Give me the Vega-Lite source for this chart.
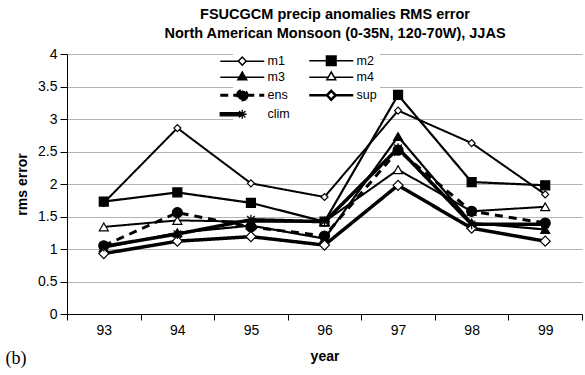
{
  "$schema": "https://vega.github.io/schema/vega-lite/v6.json",
  "padding": {"left": 5, "right": 0, "top": 6, "bottom": 0},
  "background": "white",
  "title": {
    "text": ["FSUCGCM precip anomalies RMS error", "North American Monsoon (0-35N, 120-70W), JJAS"],
    "font": "Liberation Sans", "fontSize": 14.5, "fontWeight": "bold", "lineHeight": 19,
    "anchor": "middle", "offset": 6, "dx": 41, "color": "black"
  },
  "config": {"view": {"stroke": null}, "font": "Liberation Sans", "concat": {"spacing": 0}},
  "datasets": {
    "rms": [
      {"series": "m1", "year": "93", "rms": 1.71}, {"series": "m1", "year": "94", "rms": 2.86}, {"series": "m1", "year": "95", "rms": 2.01}, {"series": "m1", "year": "96", "rms": 1.80}, {"series": "m1", "year": "97", "rms": 3.13}, {"series": "m1", "year": "98", "rms": 2.63}, {"series": "m1", "year": "99", "rms": 1.84},
      {"series": "m2", "year": "93", "rms": 1.73}, {"series": "m2", "year": "94", "rms": 1.87}, {"series": "m2", "year": "95", "rms": 1.71}, {"series": "m2", "year": "96", "rms": 1.42}, {"series": "m2", "year": "97", "rms": 3.37}, {"series": "m2", "year": "98", "rms": 2.03}, {"series": "m2", "year": "99", "rms": 1.98},
      {"series": "m3", "year": "93", "rms": 1.02}, {"series": "m3", "year": "94", "rms": 1.25}, {"series": "m3", "year": "95", "rms": 1.36}, {"series": "m3", "year": "96", "rms": 1.16}, {"series": "m3", "year": "97", "rms": 2.73}, {"series": "m3", "year": "98", "rms": 1.40}, {"series": "m3", "year": "99", "rms": 1.30},
      {"series": "m4", "year": "93", "rms": 1.34}, {"series": "m4", "year": "94", "rms": 1.44}, {"series": "m4", "year": "95", "rms": 1.42}, {"series": "m4", "year": "96", "rms": 1.42}, {"series": "m4", "year": "97", "rms": 2.22}, {"series": "m4", "year": "98", "rms": 1.58}, {"series": "m4", "year": "99", "rms": 1.65},
      {"series": "ens", "year": "93", "rms": 1.05}, {"series": "ens", "year": "94", "rms": 1.56}, {"series": "ens", "year": "95", "rms": 1.34}, {"series": "ens", "year": "96", "rms": 1.20}, {"series": "ens", "year": "97", "rms": 2.52}, {"series": "ens", "year": "98", "rms": 1.58}, {"series": "ens", "year": "99", "rms": 1.40},
      {"series": "sup", "year": "93", "rms": 0.93}, {"series": "sup", "year": "94", "rms": 1.12}, {"series": "sup", "year": "95", "rms": 1.19}, {"series": "sup", "year": "96", "rms": 1.06}, {"series": "sup", "year": "97", "rms": 1.98}, {"series": "sup", "year": "98", "rms": 1.32}, {"series": "sup", "year": "99", "rms": 1.12},
      {"series": "clim", "year": "93", "rms": 1.04}, {"series": "clim", "year": "94", "rms": 1.23}, {"series": "clim", "year": "95", "rms": 1.45}, {"series": "clim", "year": "96", "rms": 1.42}, {"series": "clim", "year": "97", "rms": 2.55}, {"series": "clim", "year": "98", "rms": 1.38}, {"series": "clim", "year": "99", "rms": 1.38}
    ]
  },
  "vconcat": [
    {
      "width": 515,
      "height": 260,
      "title": {"text": "(b)", "orient": "bottom", "anchor": "start", "font": "Liberation Serif", "fontSize": 18, "fontWeight": "normal", "offset": -13, "dx": -10, "color": "black"},
      "data": {"name": "rms"},
      "encoding": {
        "x": {
          "field": "year", "type": "ordinal",
          "scale": {"type": "band", "paddingInner": 0, "paddingOuter": 0},
          "axis": {
            "title": "year", "tickBand": "extent", "grid": false, "labelAngle": 0,
            "domainColor": "black", "tickColor": "black", "tickSize": 6,
            "labelFont": "Liberation Sans", "labelFontSize": 14, "labelColor": "black", "labelPadding": 3,
            "titleFont": "Liberation Sans", "titleFontSize": 14, "titleFontWeight": "bold", "titlePadding": 12, "titleColor": "black"
          }
        },
        "y": {
          "field": "rms", "type": "quantitative",
          "scale": {"domain": [0, 4], "nice": false},
          "axis": {
            "title": "rms error", "values": [0, 0.5, 1, 1.5, 2, 2.5, 3, 3.5, 4], "format": "~g",
            "grid": true, "gridColor": "#b4b4b4", "gridWidth": 1,
            "domainColor": "black", "tickColor": "black", "tickSize": 7,
            "labelFont": "Liberation Sans", "labelFontSize": 14, "labelColor": "black", "labelPadding": 3,
            "titleFont": "Liberation Sans", "titleFontSize": 14, "titleFontWeight": "bold", "titlePadding": 8, "titleColor": "black"
          }
        }
      },
      "layer": [
        {
          "mark": {"type": "line", "color": "black"},
          "encoding": {
            "detail": {"field": "series", "type": "nominal"},
            "strokeWidth": {"field": "series", "type": "nominal", "legend": null,
              "scale": {"type": "ordinal", "domain": ["m1", "m2", "m3", "m4", "ens", "sup", "clim"], "range": [2, 2.2, 2.2, 2, 3, 3.5, 3.5]}},
            "strokeDash": {"field": "series", "type": "nominal", "legend": null,
              "scale": {"domain": ["m1", "m2", "m3", "m4", "ens", "sup", "clim"], "range": [[1, 0], [1, 0], [1, 0], [1, 0], [8, 6], [1, 0], [1, 0]]}}
          }
        },
        {
          "mark": {"type": "point", "filled": true, "stroke": "black", "strokeWidth": 1.2, "opacity": 1},
          "encoding": {
            "shape": {"field": "series", "type": "nominal", "legend": null,
              "scale": {"domain": ["m1", "m2", "m3", "m4", "ens", "sup", "clim"],
                "range": ["diamond", "square", "triangle-up", "triangle-up", "circle", "diamond", "M-1,0H1M0,-1V1M-0.75,-0.75L0.75,0.75M-0.75,0.75L0.75,-0.75"]}},
            "fill": {"field": "series", "type": "nominal", "legend": null,
              "scale": {"domain": ["m1", "m2", "m3", "m4", "ens", "sup", "clim"], "range": ["white", "black", "black", "white", "black", "white", "black"]}},
            "size": {"field": "series", "type": "nominal", "legend": null,
              "scale": {"type": "ordinal", "domain": ["m1", "m2", "m3", "m4", "ens", "sup", "clim"], "range": [49, 81, 81, 81, 100, 100, 100]}}
          }
        },
        {
          "transform": [{"filter": "datum.rms < 0"}],
          "mark": {"type": "point", "filled": true, "stroke": "black", "size": 64, "opacity": 1},
          "encoding": {
            "x": {"field": "year", "type": "ordinal"},
            "y": {"field": "rms", "type": "quantitative"},
            "shape": {"field": "series", "type": "nominal",
              "scale": {"domain": ["m1", "m2", "m3", "m4", "ens", "sup", "clim"],
                "range": [
                  "M-5.5,0H-1M1,0H5.5M0,-1L1,0L0,1L-1,0Z",
                  "M-5.5,0H5.5M-1.2,-1.2H1.2V1.2H-1.2Z",
                  "M-5.5,0H5.5M0,-1.3L1.1,0.6H-1.1Z",
                  "M-5.5,0H-0.75M0.75,0H5.5M0,-1.3L1.1,0.6H-1.1Z",
                  "M-5.5,0H5.5M1.2,0L1.04,0.6L0.6,1.04L0,1.2L-0.6,1.04L-1.04,0.6L-1.2,0L-1.04,-0.6L-0.6,-1.04L0,-1.2L0.6,-1.04L1.04,-0.6Z",
                  "M-5.5,0H-1.1M1.1,0H5.5M0,-1.1L1.1,0L0,1.1L-1.1,0Z",
                  "M-5.5,-0.4H0V0.4H-5.5ZM0,-1.1V1.1M-1.1,0H1.1M-0.8,-0.8L0.8,0.8M-0.8,0.8L0.8,-0.8"
                ]},
              "legend": {"title": null, "orient": "none", "direction": "horizontal", "legendX": 166, "legendY": -3, "columns": 2, "fillColor": "white", "padding": 3, "symbolSize": 64, "symbolStrokeColor": "black", "labelFont": "Liberation Sans", "labelFontSize": 12.5, "labelColor": "black", "labelOffset": 19, "columnPadding": 14, "rowPadding": 0}},
            "fill": {"field": "series", "type": "nominal",
              "scale": {"domain": ["m1", "m2", "m3", "m4", "ens", "sup", "clim"], "range": ["white", "black", "black", "white", "black", "white", "black"]},
              "legend": {"title": null, "orient": "none", "direction": "horizontal", "legendX": 166, "legendY": -3, "columns": 2, "fillColor": "white", "padding": 3, "symbolSize": 64, "symbolStrokeColor": "black", "labelFont": "Liberation Sans", "labelFontSize": 12.5, "labelColor": "black", "labelOffset": 19, "columnPadding": 14, "rowPadding": 0}},
            "stroke": {"field": "series", "type": "nominal",
              "scale": {"domain": ["m1", "m2", "m3", "m4", "ens", "sup", "clim"], "range": ["black", "black", "black", "black", "black", "black", "black"]},
              "legend": {"title": null, "orient": "none", "direction": "horizontal", "legendX": 166, "legendY": -3, "columns": 2, "fillColor": "white", "padding": 3, "symbolSize": 64, "symbolStrokeColor": "black", "labelFont": "Liberation Sans", "labelFontSize": 12.5, "labelColor": "black", "labelOffset": 19, "columnPadding": 14, "rowPadding": 0}},
            "strokeWidth": {"field": "series", "type": "nominal",
              "scale": {"type": "ordinal", "domain": ["m1", "m2", "m3", "m4", "ens", "sup", "clim"], "range": [1.5, 1.5, 1.5, 1.5, 3, 2.5, 1.3]},
              "legend": {"title": null, "orient": "none", "direction": "horizontal", "legendX": 166, "legendY": -3, "columns": 2, "fillColor": "white", "padding": 3, "symbolSize": 64, "symbolStrokeColor": "black", "labelFont": "Liberation Sans", "labelFontSize": 12.5, "labelColor": "black", "labelOffset": 19, "columnPadding": 14, "rowPadding": 0}},
            "strokeDash": {"field": "series", "type": "nominal",
              "scale": {"domain": ["m1", "m2", "m3", "m4", "ens", "sup", "clim"], "range": [[1, 0], [1, 0], [1, 0], [1, 0], [8, 5], [1, 0], [1, 0]]},
              "legend": {"title": null, "orient": "none", "direction": "horizontal", "legendX": 166, "legendY": -3, "columns": 2, "fillColor": "white", "padding": 3, "symbolSize": 64, "symbolStrokeColor": "black", "labelFont": "Liberation Sans", "labelFontSize": 12.5, "labelColor": "black", "labelOffset": 19, "columnPadding": 14, "rowPadding": 0}}
          }
        }
      ],
      "resolve": {
        "scale": {"shape": "independent", "fill": "independent", "stroke": "independent", "strokeWidth": "independent", "strokeDash": "independent", "size": "independent"},
        "legend": {"shape": "independent", "fill": "independent", "stroke": "independent", "strokeWidth": "independent", "strokeDash": "independent", "size": "independent"}
      }
    }
  ]
}
